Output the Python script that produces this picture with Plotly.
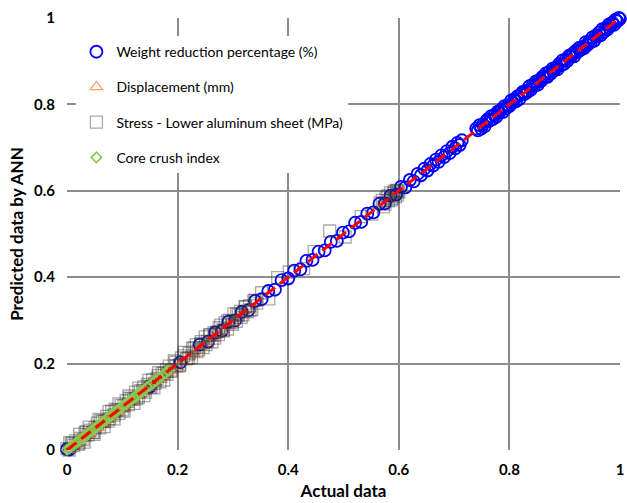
import plotly.graph_objects as go

# Weight reduction percentage (%) — actual vs. ANN prediction (normalised)
wr_actual = [0.000, 0.004,
             0.150, 0.205, 0.240, 0.255, 0.268, 0.280, 0.292, 0.304, 0.316, 0.328,
             0.340, 0.352, 0.364, 0.376, 0.388, 0.400, 0.411, 0.422, 0.433, 0.444,
             0.455, 0.466, 0.477, 0.488, 0.499, 0.510, 0.521, 0.532, 0.543, 0.554,
             0.565, 0.575, 0.585, 0.595, 0.604, 0.612, 0.620, 0.627, 0.634, 0.640,
             0.646, 0.652, 0.657, 0.662, 0.667, 0.672, 0.677, 0.682, 0.687, 0.692,
             0.697, 0.702, 0.706, 0.710, 0.714,
             0.740, 0.743, 0.746, 0.749, 0.752, 0.755, 0.758, 0.761, 0.764, 0.767,
             0.770, 0.773, 0.776, 0.779, 0.782, 0.785, 0.788, 0.791, 0.794, 0.797,
             0.800, 0.803, 0.806, 0.809, 0.812, 0.815, 0.818, 0.821, 0.824, 0.827,
             0.830, 0.833, 0.836, 0.839, 0.842, 0.845, 0.848, 0.851, 0.854, 0.857,
             0.860, 0.863, 0.866, 0.869, 0.872, 0.875, 0.878, 0.881, 0.884, 0.887,
             0.890, 0.893, 0.896, 0.899, 0.902, 0.905, 0.908, 0.911, 0.914, 0.917,
             0.920, 0.923, 0.926, 0.929, 0.932, 0.935, 0.938, 0.941, 0.944, 0.947,
             0.950, 0.953, 0.956, 0.959, 0.962, 0.965, 0.968, 0.971, 0.974, 0.977,
             0.980, 0.983, 0.986, 0.989, 0.992, 0.995, 0.998, 1.000]
wr_pred = [0.002, 0.001,
           0.147, 0.203, 0.244, 0.251, 0.272, 0.276, 0.297, 0.300, 0.320, 0.323,
           0.345, 0.349, 0.368, 0.371, 0.393, 0.397, 0.415, 0.418, 0.438, 0.440,
           0.459, 0.462, 0.482, 0.484, 0.503, 0.506, 0.526, 0.528, 0.547, 0.550,
           0.570, 0.571, 0.589, 0.591, 0.609, 0.608, 0.625, 0.622, 0.639, 0.636,
           0.651, 0.647, 0.662, 0.658, 0.672, 0.667, 0.682, 0.678, 0.692, 0.687,
           0.702, 0.698, 0.711, 0.706, 0.717,
           0.744, 0.740, 0.752, 0.744, 0.753, 0.749, 0.761, 0.766, 0.762, 0.773,
           0.766, 0.775, 0.771, 0.783, 0.781, 0.788, 0.782, 0.796, 0.791, 0.798,
           0.796, 0.809, 0.804, 0.812, 0.807, 0.819, 0.812, 0.823, 0.829, 0.824,
           0.831, 0.829, 0.842, 0.834, 0.845, 0.843, 0.853, 0.845, 0.856, 0.854,
           0.864, 0.862, 0.872, 0.864, 0.875, 0.871, 0.883, 0.879, 0.885, 0.881,
           0.894, 0.890, 0.902, 0.894, 0.904, 0.901, 0.913, 0.910, 0.917, 0.911,
           0.924, 0.921, 0.931, 0.926, 0.933, 0.930, 0.944, 0.937, 0.946, 0.944,
           0.955, 0.947, 0.959, 0.957, 0.966, 0.960, 0.974, 0.968, 0.976, 0.973,
           0.985, 0.982, 0.989, 0.984, 0.996, 0.992, 1.000, 0.998]

# Displacement (mm)
disp_actual = [0.000, 0.006, 0.012, 0.019, 0.025, 0.033, 0.041, 0.049, 0.057, 0.066,
               0.075, 0.084, 0.093, 0.102, 0.111, 0.121, 0.131, 0.141, 0.150, 0.160,
               0.170, 0.180, 0.190, 0.200, 0.210, 0.220, 0.229, 0.238, 0.247, 0.256,
               0.265, 0.274, 0.283, 0.292, 0.301, 0.310, 0.320, 0.330]
disp_pred = [-0.003, 0.001, 0.008, 0.014, 0.029, 0.027, 0.036, 0.055, 0.051, 0.061,
             0.070, 0.080, 0.088, 0.097, 0.105, 0.116, 0.126, 0.135, 0.145, 0.154,
             0.163, 0.174, 0.183, 0.193, 0.204, 0.213, 0.223, 0.231, 0.241, 0.250,
             0.258, 0.268, 0.277, 0.287, 0.296, 0.305, 0.316, 0.326]

# Stress - Lower aluminum sheet (MPa)
stress_actual = [0.000, 0.004, 0.008, 0.012, 0.016, 0.020, 0.025, 0.029, 0.033, 0.038,
                 0.042, 0.046, 0.051, 0.055, 0.059, 0.064, 0.068, 0.072, 0.077, 0.081,
                 0.085, 0.090, 0.094, 0.098, 0.103, 0.107, 0.111, 0.116, 0.120, 0.124,
                 0.129, 0.133, 0.137, 0.142, 0.146, 0.150, 0.155, 0.159, 0.163, 0.168,
                 0.172, 0.176, 0.181, 0.185, 0.189, 0.194, 0.198, 0.203, 0.207, 0.212,
                 0.216, 0.221, 0.225, 0.230, 0.234, 0.238, 0.242, 0.246, 0.250, 0.254,
                 0.258, 0.262, 0.266, 0.270, 0.274, 0.278, 0.282, 0.286, 0.290, 0.294,
                 0.298, 0.302, 0.306, 0.310, 0.314, 0.318, 0.322, 0.326, 0.330, 0.334,
                 0.338, 0.343, 0.352, 0.365, 0.381, 0.402, 0.428, 0.447, 0.475, 0.503,
                 0.532, 0.551, 0.566, 0.572, 0.577, 0.581, 0.585, 0.588, 0.591, 0.594,
                 0.596, 0.598, 0.600,
                 0.180, 0.188, 0.196, 0.204, 0.211, 0.219, 0.227, 0.235, 0.243, 0.251,
                 0.259, 0.267, 0.275, 0.283, 0.291, 0.299, 0.307, 0.315, 0.323, 0.331,
                 0.340, 0.010, 0.022, 0.035, 0.048, 0.061, 0.074, 0.087, 0.100, 0.113,
                 0.126, 0.139, 0.152, 0.165, 0.570, 0.575, 0.580, 0.586, 0.592, 0.597,
                 0.005, 0.014, 0.023, 0.031, 0.040, 0.049, 0.058, 0.067, 0.076, 0.085,
                 0.094, 0.103, 0.112, 0.121, 0.130, 0.139, 0.148, 0.157, 0.166, 0.175]
stress_pred = [0.003, 0.000, 0.014, 0.010, 0.021, 0.013, 0.027, 0.024, 0.041, 0.035,
               0.046, 0.040, 0.052, 0.062, 0.051, 0.067, 0.066, 0.078, 0.072, 0.090,
               0.081, 0.092, 0.085, 0.103, 0.102, 0.114, 0.105, 0.119, 0.117, 0.134,
               0.122, 0.137, 0.138, 0.134, 0.152, 0.148, 0.163, 0.154, 0.166, 0.158,
               0.177, 0.178, 0.175, 0.194, 0.185, 0.206, 0.195, 0.195, 0.213, 0.226,
               0.211, 0.224, 0.214, 0.237, 0.244, 0.232, 0.246, 0.237, 0.262, 0.252,
               0.266, 0.250, 0.271, 0.273, 0.267, 0.289, 0.278, 0.295, 0.280, 0.300,
               0.295, 0.315, 0.298, 0.312, 0.321, 0.313, 0.332, 0.320, 0.334, 0.325,
               0.346, 0.340, 0.364, 0.350, 0.399, 0.412, 0.420, 0.459, 0.507, 0.493,
               0.540, 0.546, 0.572, 0.563, 0.584, 0.577, 0.595, 0.582, 0.594, 0.586,
               0.601, 0.600, 0.597,
               0.186, 0.182, 0.203, 0.197, 0.218, 0.212, 0.235, 0.228, 0.251, 0.244,
               0.267, 0.259, 0.283, 0.276, 0.299, 0.291, 0.315, 0.307, 0.331, 0.324,
               0.347, 0.016, 0.016, 0.042, 0.041, 0.068, 0.067, 0.094, 0.093, 0.120,
               0.119, 0.146, 0.145, 0.172, 0.578, 0.569, 0.588, 0.579, 0.599, 0.590,
               0.017, -0.001, 0.036, 0.018, 0.053, 0.036, 0.071, 0.054, 0.089, 0.072,
               0.107, 0.090, 0.125, 0.108, 0.143, 0.126, 0.161, 0.144, 0.179, 0.162]

# Core crush index
crush_actual = [0.000, 0.004, 0.008, 0.012, 0.016, 0.020, 0.024, 0.028, 0.032, 0.036,
                0.040, 0.044, 0.048, 0.052, 0.056, 0.060, 0.064, 0.068, 0.072, 0.076,
                0.080, 0.084, 0.088, 0.092, 0.096, 0.100, 0.104, 0.108, 0.112, 0.116,
                0.120, 0.124, 0.128, 0.132, 0.136, 0.140, 0.145, 0.150, 0.155, 0.160,
                0.166, 0.172, 0.178, 0.185]
crush_pred = [0.001, 0.003, 0.009, 0.011, 0.017, 0.019, 0.025, 0.027, 0.033, 0.035,
              0.041, 0.043, 0.049, 0.051, 0.057, 0.059, 0.065, 0.067, 0.073, 0.075,
              0.081, 0.083, 0.089, 0.091, 0.097, 0.099, 0.105, 0.107, 0.113, 0.115,
              0.121, 0.123, 0.129, 0.131, 0.137, 0.139, 0.146, 0.149, 0.156, 0.159,
              0.167, 0.171, 0.179, 0.184]

# Ideal agreement line (y = x)
ideal_line = [0, 1]

tick_vals = [0, 0.2, 0.4, 0.6, 0.8, 1]
tick_text = ["0", "0.2", "0.4", "0.6", "0.8", "1"]

FONT = "Lato, Carlito, Calibri, 'Open Sans', sans-serif"

fig = go.Figure()

fig.add_trace(go.Scatter(
    x=wr_actual, y=wr_pred, mode="markers", name="Weight reduction percentage (%)",
    legendgroup="a", cliponaxis=False,
    marker=dict(symbol="circle-open", size=12, color="#0000ff", line=dict(width=1.8)),
))
fig.add_trace(go.Scatter(
    x=disp_actual, y=disp_pred, mode="markers", name="Displacement (mm)",
    legendgroup="b", cliponaxis=False,
    marker=dict(symbol="triangle-up-open", size=11, color="rgba(237,125,49,0.75)",
                line=dict(width=1.2)),
))
fig.add_trace(go.Scatter(
    x=stress_actual, y=stress_pred, mode="markers",
    name="Stress - Lower aluminum sheet (MPa)",
    legendgroup="c", cliponaxis=False,
    marker=dict(symbol="square-open", size=12, color="rgba(50,50,50,0.42)",
                line=dict(width=1.3)),
))
fig.add_trace(go.Scatter(
    x=crush_actual, y=crush_pred, mode="markers", name="Core crush index",
    legendgroup="d", cliponaxis=False,
    marker=dict(symbol="diamond-open", size=8, color="#8cc84b",
                line=dict(width=1.6)),
))
fig.add_trace(go.Scatter(
    x=ideal_line, y=ideal_line, mode="lines", showlegend=False, cliponaxis=False,
    line=dict(color="#ff0000", width=3, dash="12px,6px"),
))

axis_common = dict(
    range=[0, 1], tickvals=tick_vals, ticktext=tick_text,
    showgrid=True, gridcolor="#8c8c8c", gridwidth=1.5,
    zeroline=False, showline=False, ticks="", ticklabeloverflow="allow",
    tickfont=dict(family=FONT, size=15, color="#000000", weight="bold"),
)

fig.update_layout(
    width=627, height=503,
    margin=dict(l=67, r=3, t=18, b=53),
    paper_bgcolor="white", plot_bgcolor="white",
    font=dict(family=FONT, color="#000000"),
    xaxis=dict(**axis_common, ticklabelstandoff=9,
               title=dict(text="<b>Actual data</b>", font=dict(size=17), standoff=8)),
    yaxis=dict(**axis_common, ticklabelstandoff=11,
               title=dict(text="<b>Predicted data by ANN</b>", font=dict(size=17), standoff=6)),
    legend=dict(
        x=0.017, y=0.958, xanchor="left", yanchor="top",
        bgcolor="white", borderwidth=0,
        font=dict(family=FONT, size=14, color="#000000"),
        tracegroupgap=14, itemwidth=30,
    ),
)

fig.write_html("out.html")
